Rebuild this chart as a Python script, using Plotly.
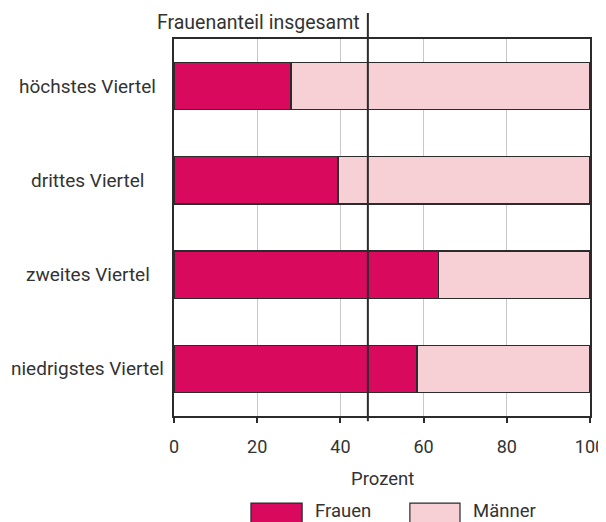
import plotly.graph_objects as go

categories = ["niedrigstes Viertel", "zweites Viertel", "drittes Viertel", "höchstes Viertel"]
frauen = [58.4, 63.5, 39.4, 28.1]
maenner = [100 - v for v in frauen]
frauen_gesamt = 46.6
x_ticks = [0, 20, 40, 60, 80, 100]

col_f = "#D90A5E"
col_m = "#F6D0D4"
dark = "#2b2b2b"
txt = "#333333"
font = "Roboto"

fig = go.Figure()
fig.add_trace(go.Bar(y=categories, x=frauen, orientation="h", name="Frauen", width=0.5,
                     marker=dict(color=col_f, line=dict(color=dark, width=1.2))))
fig.add_trace(go.Bar(y=categories, x=maenner, orientation="h", name="Männer", width=0.5,
                     marker=dict(color=col_m, line=dict(color=dark, width=1.2))))

# category labels centred left of the plot
for c in categories:
    fig.add_annotation(x=-0.207, xref="paper", y=c, yref="y", text=c, showarrow=False,
                       xanchor="center", font=dict(size=19, color=txt))

# overall share line
fig.add_shape(type="line", x0=frauen_gesamt, x1=frauen_gesamt, xref="x",
              y0=-0.014, y1=1.069, yref="paper", line=dict(color=dark, width=2))
fig.add_annotation(x=frauen_gesamt, xref="x", y=1.045, yref="paper", yanchor="middle",
                   xanchor="right", xshift=-6, text="Frauenanteil insgesamt", showarrow=False,
                   font=dict(size=19.5, color=txt))

# x axis title
fig.add_annotation(x=0.5, xref="paper", y=-0.168, yref="paper", yanchor="middle",
                   text="Prozent", showarrow=False, font=dict(size=18.5, color=txt))

# legend boxes
legend = [("Frauen", col_f, 0.185, 0.308, 0.334), ("Männer", col_m, 0.567, 0.6875, 0.714)]
for name, col, bx0, bx1, tx in legend:
    fig.add_shape(type="rect", xref="paper", yref="paper", x0=bx0, x1=bx1, y0=-0.29, y1=-0.231,
                  fillcolor=col, line=dict(color=dark, width=1.2))
    fig.add_annotation(x=tx, xref="paper", y=-0.252, yref="paper", yanchor="middle", text=name,
                       showarrow=False, xanchor="left", font=dict(size=18.5, color=txt))

# page has an 8px body margin, so the figure is sized to fit inside the window
fig.update_layout(
    barmode="stack", width=598, height=514, showlegend=False,
    margin=dict(l=166, r=16, t=31, b=106),
    plot_bgcolor="white", paper_bgcolor="white",
    font=dict(family=font, size=18, color=txt),
)
fig.update_xaxes(range=[0, 100], tickvals=x_ticks, showgrid=True, gridcolor="#c8c8c8", gridwidth=1.2,
                 showline=True, linecolor=dark, linewidth=2, mirror=True, ticks="outside",
                 ticklen=5, tickwidth=2, tickcolor=dark, zeroline=False, automargin=False,
                 ticklabelstandoff=8, tickfont=dict(size=18, color=txt))
fig.update_yaxes(range=[-0.5, 3.5], showticklabels=False, showgrid=False, showline=True,
                 linecolor=dark, linewidth=2, mirror=True, zeroline=False, automargin=False)

fig.write_html("out.html")
